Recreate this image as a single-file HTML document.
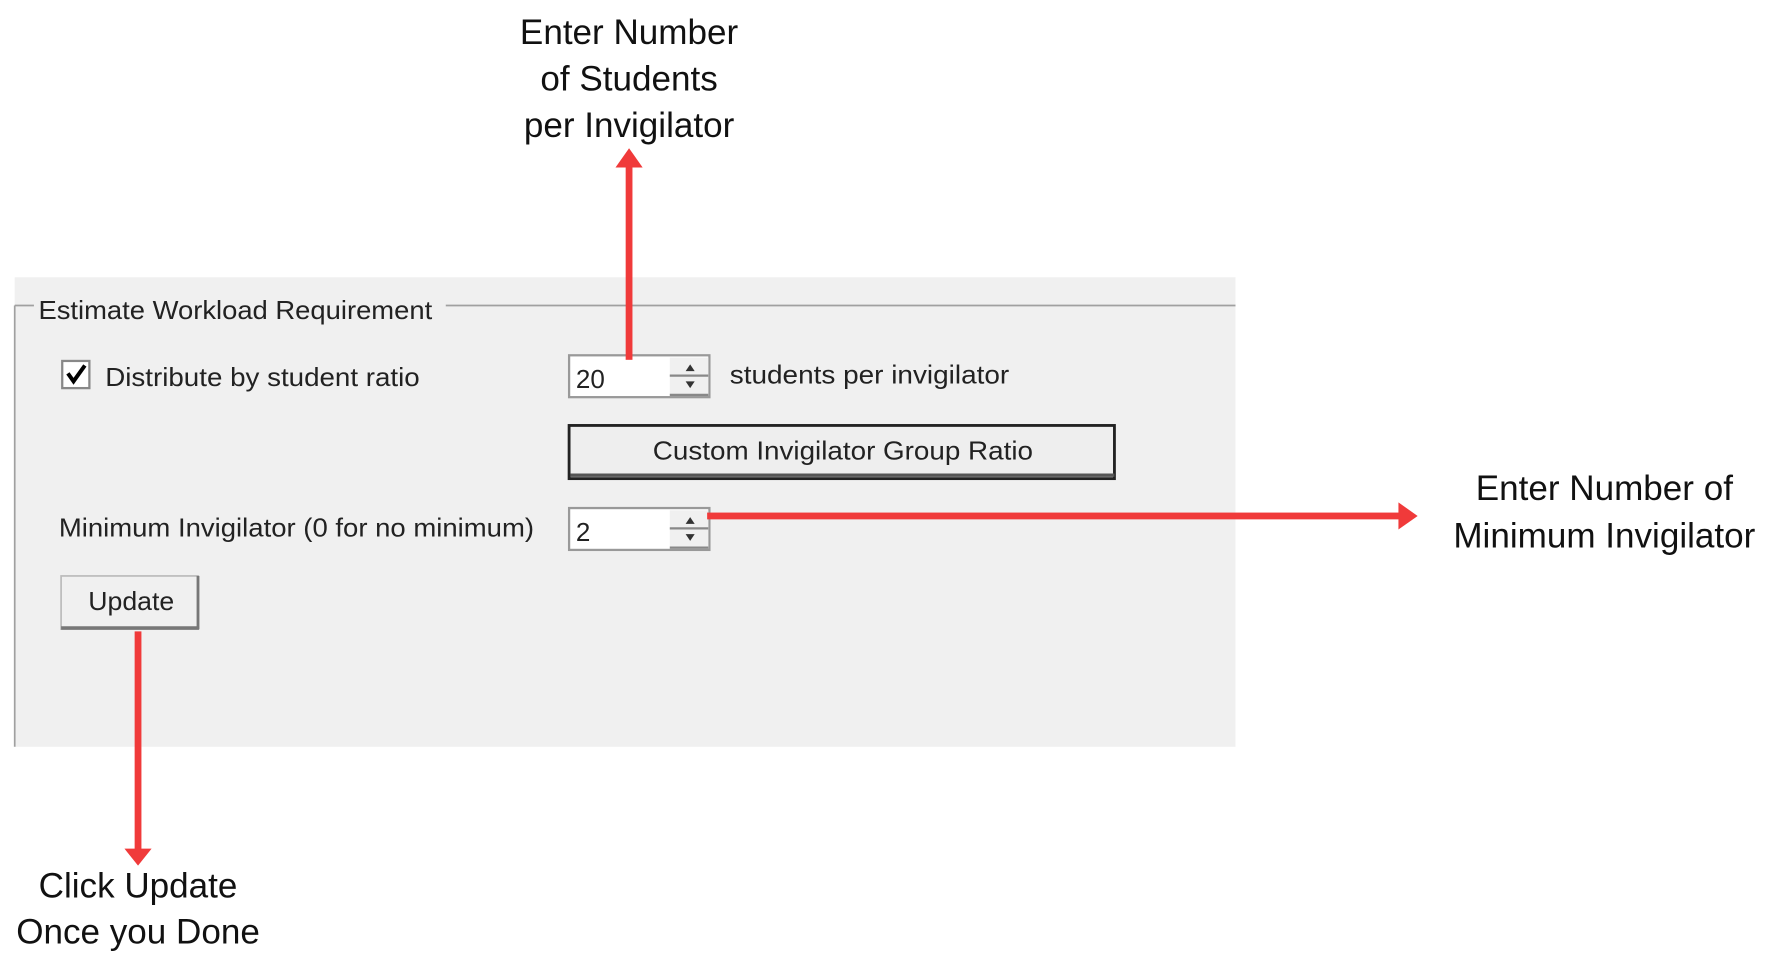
<!DOCTYPE html>
<html><head><meta charset="utf-8"><style>
html,body{margin:0;padding:0;background:#fff;}
svg{display:block;}
</style></head><body>
<svg width="1765" height="955" viewBox="0 0 1560 844" preserveAspectRatio="none" xmlns="http://www.w3.org/2000/svg">
<rect width="1560" height="844" fill="#fff"/>
<rect x="13" y="245" width="1079" height="415" fill="#f0f0f0"/>
<line x1="13" y1="270" x2="13" y2="660" stroke="#a0a0a0" stroke-width="1.5"/>
<line x1="13" y1="270" x2="30" y2="270" stroke="#a0a0a0" stroke-width="1.5"/>
<line x1="394" y1="270" x2="1092" y2="270" stroke="#a0a0a0" stroke-width="1.5"/>
<g font-family="Liberation Sans, sans-serif" font-size="23" fill="#222">
<text x="34" y="282" textLength="348" lengthAdjust="spacingAndGlyphs">Estimate Workload Requirement</text>
<text x="93" y="341" textLength="278" lengthAdjust="spacingAndGlyphs">Distribute by student ratio</text>
<text x="645" y="339" textLength="247" lengthAdjust="spacingAndGlyphs">students per invigilator</text>
<text x="52" y="474" textLength="420" lengthAdjust="spacingAndGlyphs">Minimum Invigilator (0 for no minimum)</text>
</g>
<rect x="55" y="319" width="24" height="24" fill="#fff" stroke="#888" stroke-width="2"/>
<path d="M60 330 L65 337 L75 323" fill="none" stroke="#000" stroke-width="3.5"/>
<g>
<rect x="503" y="314" width="124" height="37" fill="#fff" stroke="#999" stroke-width="2"/>
<rect x="592" y="316" width="34" height="33" fill="#f0f0f0"/>
<line x1="592" y1="332" x2="626" y2="332" stroke="#888" stroke-width="2"/>
<line x1="592" y1="349" x2="626" y2="349" stroke="#888" stroke-width="2"/>
<path d="M606 328 L610 322 L614 328Z" fill="#333"/>
<path d="M606 337 L610 343 L614 337Z" fill="#333"/>
<text x="509" y="343" font-family="Liberation Sans, sans-serif" font-size="23" fill="#222">20</text>
</g>
<g>
<rect x="503" y="449" width="124" height="37" fill="#fff" stroke="#999" stroke-width="2"/>
<rect x="592" y="451" width="34" height="33" fill="#f0f0f0"/>
<line x1="592" y1="467" x2="626" y2="467" stroke="#888" stroke-width="2"/>
<line x1="592" y1="484" x2="626" y2="484" stroke="#888" stroke-width="2"/>
<path d="M606 463 L610 457 L614 463Z" fill="#333"/>
<path d="M606 472 L610 478 L614 472Z" fill="#333"/>
<text x="509" y="478" font-family="Liberation Sans, sans-serif" font-size="23" fill="#222">2</text>
</g>
<rect x="503" y="376" width="482" height="47" fill="#eeeeee" stroke="#222" stroke-width="2.5"/>
<line x1="504" y1="420" x2="985" y2="420" stroke="#555" stroke-width="3"/>
<text x="745" y="406" text-anchor="middle" font-family="Liberation Sans, sans-serif" font-size="23" fill="#222" textLength="336" lengthAdjust="spacingAndGlyphs">Custom Invigilator Group Ratio</text>
<rect x="54" y="509" width="121" height="47" fill="#f0f0f0" stroke="#bbb" stroke-width="1.5"/>
<line x1="54" y1="555" x2="176" y2="555" stroke="#777" stroke-width="3"/>
<line x1="175" y1="509" x2="175" y2="556" stroke="#777" stroke-width="2.5"/>
<text x="116" y="539" text-anchor="middle" font-family="Liberation Sans, sans-serif" font-size="23" fill="#222" textLength="76" lengthAdjust="spacingAndGlyphs">Update</text>
<g fill="#f03a3a" stroke="none">
<rect x="553" y="142" width="6" height="176"/>
<path d="M544 148 L556 131 L568 148Z"/>
<rect x="625" y="453" width="616" height="6"/>
<path d="M1236 444 L1253 456 L1236 468Z"/>
<rect x="119" y="558" width="6" height="196"/>
<path d="M110 750 L122 765 L134 750Z"/>
</g>
<g font-family="Liberation Sans, sans-serif" font-size="31" fill="#111" text-anchor="middle">
<text x="556" y="39">Enter Number</text>
<text x="556" y="80">of Students</text>
<text x="556" y="121">per Invigilator</text>
<text x="1418" y="442">Enter Number of</text>
<text x="1418" y="484">Minimum Invigilator</text>
<text x="122" y="793">Click Update</text>
<text x="122" y="834">Once you Done</text>
</g>
</svg>
</body></html>
